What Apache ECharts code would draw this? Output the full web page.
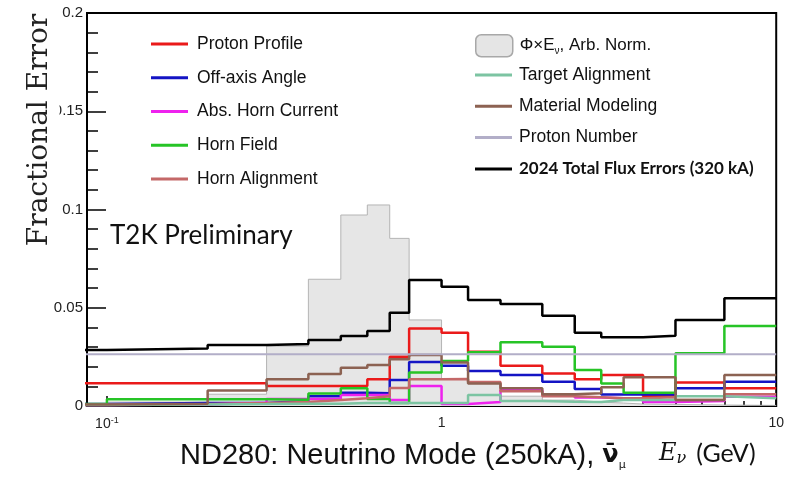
<!DOCTYPE html>
<html>
<head>
<meta charset="utf-8">
<script src="https://cdn.jsdelivr.net/npm/echarts@6/dist/echarts.min.js"></script>
<style>
  html, body { margin: 0; padding: 0; background: #fff; }
  #chart { width: 787px; height: 482px; }
</style>
</head>
<body>
<div id="chart"></div>
<script>
// Neutrino energy bin edges in GeV (the lowest bin starts below the visible range)
const binEdges = [0.01, 0.1, 0.2, 0.3, 0.4, 0.5, 0.6, 0.7, 0.8, 1.0, 1.2, 1.5, 2.0, 2.5, 3.0, 3.5, 4.0, 5.0, 7.0, 10.0];

// Flux x energy, arbitrary normalisation
const fluxShape     = [0.0003, 0.0020, 0.0060, 0.0305, 0.0645, 0.0972, 0.1023, 0.0853, 0.0438, 0.0135, 0.0120, 0.0050, 0.0030, 0.0020, 0.0015, 0.0010, 0.0008, 0.0005, 0.0003];

// Fractional error per bin for each systematic source
const protonProfile = [0.0116, 0.0116, 0.0116, 0.0102, 0.0102, 0.0102, 0.0136, 0.0251, 0.0395, 0.0373, 0.0276, 0.0205, 0.0166, 0.0136, 0.0158, 0.0158, 0.0050, 0.0119, 0.0090];
const offAxisAngle  = [0.0010, 0.0015, 0.0015, 0.0025, 0.0049, 0.0068, 0.0065, 0.0132, 0.0224, 0.0205, 0.0178, 0.0158, 0.0124, 0.0087, 0.0059, 0.0059, 0.0058, 0.0090, 0.0124];
const hornCurrent   = [0.0005, 0.0008, 0.0017, 0.0036, 0.0036, 0.0056, 0.0056, 0.0030, 0.0102, 0.0010, 0.0020, 0.0081, 0.0056, 0.0043, 0.0039, 0.0039, 0.0020, 0.0025, 0.0047];
const hornField     = [0.0010, 0.0034, 0.0034, 0.0032, 0.0063, 0.0090, 0.0035, 0.0015, 0.0170, 0.0229, 0.0273, 0.0324, 0.0302, 0.0183, 0.0115, 0.0068, 0.0068, 0.0268, 0.0407];
const hornAlignment = [0.0005, 0.0010, 0.0015, 0.0020, 0.0030, 0.0040, 0.0050, 0.0092, 0.0136, 0.0137, 0.0122, 0.0075, 0.0050, 0.0045, 0.0040, 0.0040, 0.0045, 0.0030, 0.0060];
const targetAlign   = [0.0005, 0.0008, 0.0010, 0.0012, 0.0012, 0.0015, 0.0015, 0.0015, 0.0015, 0.0015, 0.0056, 0.0025, 0.0022, 0.0020, 0.0030, 0.0030, 0.0030, 0.0050, 0.0040];
const materialModel = [0.0008, 0.0012, 0.0079, 0.0136, 0.0163, 0.0195, 0.0209, 0.0238, 0.0260, 0.0222, 0.0115, 0.0090, 0.0060, 0.0065, 0.0095, 0.0146, 0.0146, 0.0030, 0.0158];
const protonNumber  = [0.0263, 0.0263, 0.0263, 0.0263, 0.0263, 0.0263, 0.0263, 0.0263, 0.0263, 0.0263, 0.0263, 0.0263, 0.0263, 0.0263, 0.0263, 0.0263, 0.0263, 0.0263, 0.0263];
const totalError    = [0.0285, 0.0293, 0.0310, 0.0316, 0.0336, 0.0356, 0.0382, 0.0475, 0.0641, 0.0607, 0.0540, 0.0519, 0.0459, 0.0373, 0.0350, 0.0350, 0.0358, 0.0438, 0.0548];

// Axis ticks
const xMajorTicks = [0.1, 1, 10];
const xMinorTicks = [0.2, 0.3, 0.4, 0.5, 0.6, 0.7, 0.8, 0.9, 2, 3, 4, 5, 6, 7, 8, 9];
const yTickStep = 0.05;

const FLUX_NAME = 'ΦxEν, Arb. Norm.';
const TOTAL_NAME = '2024 Total Flux Errors (320 kA)';

const sources = [
  { name: 'Proton Profile',     values: protonProfile, color: '#ea1a1a', width: 2.5 },
  { name: 'Off-axis Angle',     values: offAxisAngle,  color: '#1414c4', width: 2.5 },
  { name: 'Abs. Horn Current',  values: hornCurrent,   color: '#ee22ee', width: 2.5 },
  { name: 'Horn Field',         values: hornField,     color: '#26c426', width: 2.5 },
  { name: 'Horn Alignment',     values: hornAlignment, color: '#c46868', width: 2.5 },
  { name: 'Target Alignment',   values: targetAlign,   color: '#7cc4a2', width: 2.5 },
  { name: 'Material Modeling',  values: materialModel, color: '#8c6252', width: 2.5 },
  { name: 'Proton Number',      values: protonNumber,  color: '#b2aec8', width: 2 },
  { name: TOTAL_NAME,           values: totalError,    color: '#000000', width: 2.5 }
];

// Histogram points: value of each bin placed at its lower edge, closed at the top edge
function histPoints(values) {
  return binEdges.map((e, i) => [e, values[Math.min(i, values.length - 1)]]);
}

const seriesList = [{
  name: FLUX_NAME,
  type: 'line',
  step: 'end',
  data: histPoints(fluxShape),
  showSymbol: false,
  color: '#e4e4e4',
  lineStyle: { color: '#b4b4b4', width: 1 },
  areaStyle: { color: '#e6e6e6', opacity: 1 },
  z: 1,
  silent: true
}].concat(sources.map((s, i) => ({
  name: s.name,
  type: 'line',
  step: 'end',
  data: histPoints(s.values),
  showSymbol: false,
  color: s.color,
  itemStyle: { color: s.color },
  lineStyle: { color: s.color, width: s.width },
  z: 3 + i,
  silent: true
})));

const legendText = {
  fontFamily: 'Liberation Sans',
  fontSize: 17.5,
  color: '#111',
  lineHeight: 20
};

const option = {
  animation: false,
  backgroundColor: '#fff',
  grid: {
    left: 87, right: 10, top: 13, bottom: 76,
    show: true, borderColor: '#000', borderWidth: 2, backgroundColor: 'transparent'
  },
  xAxis: [{
    type: 'log', logBase: 10, min: 0.0872, max: 10, position: 'bottom',
    axisLine: { show: false },
    splitLine: { show: false },
    axisTick: { show: true, inside: true, length: 10, customValues: xMajorTicks, lineStyle: { color: '#000', width: 1.5 } },
    axisLabel: {
      customValues: xMajorTicks,
      margin: 10,
      fontFamily: 'Liberation Sans', fontSize: 14, color: '#222',
      formatter: v => (Math.abs(v - 0.1) < 1e-9 ? '{b|10}{s|-1}' : String(Math.round(v))),
      rich: {
        b: { fontFamily: 'Liberation Sans', fontSize: 14, color: '#222', lineHeight: 16 },
        s: { fontFamily: 'Liberation Sans', fontSize: 9, color: '#222', verticalAlign: 'top', lineHeight: 16, padding: [0, 0, 6, 0] }
      }
    }
  }, {
    type: 'log', logBase: 10, min: 0.0872, max: 10, position: 'bottom',
    axisLine: { show: false },
    splitLine: { show: false },
    axisTick: { show: true, inside: true, length: 5, customValues: xMinorTicks, lineStyle: { color: '#000', width: 1.5 } },
    axisLabel: { show: false }
  }],
  yAxis: {
    type: 'value', min: 0, max: 0.2, interval: yTickStep,
    axisLine: { show: false },
    splitLine: { show: false },
    axisTick: { show: true, inside: true, length: 19, lineStyle: { color: '#000', width: 1.5 } },
    minorTick: { show: true, splitNumber: 5, length: 11, lineStyle: { color: '#000', width: 1.5 } },
    axisLabel: { margin: 4, fontFamily: 'Liberation Sans', fontSize: 15, color: '#222' }
  },
  legend: [{
    data: sources.slice(0, 5).map(s => s.name),
    orient: 'vertical', left: 146, top: 29,
    icon: 'rect', itemWidth: 37, itemHeight: 3, itemGap: 13.75,
    selectedMode: false,
    itemStyle: { borderWidth: 0 },
    textStyle: Object.assign({ padding: [0, 0, 0, 4] }, legendText)
  }, {
    data: [FLUX_NAME],
    orient: 'vertical', left: 470, top: 29,
    icon: 'roundRect', itemWidth: 37, itemHeight: 22,
    selectedMode: false,
    itemStyle: { color: '#e5e5e5', borderColor: '#a8a8a8', borderWidth: 1.5 },
    formatter: () => '{n|Φ×E}{s|ν}{n|, Arb. Norm.}',
    textStyle: Object.assign({
      padding: [0, 0, 0, 2],
      rich: {
        n: { fontFamily: 'Liberation Sans', fontSize: 17, color: '#111' },
        s: { fontFamily: 'Liberation Sans', fontSize: 10, color: '#111', verticalAlign: 'bottom', padding: [6, 0, 0, 0] }
      }
    }, legendText)
  }, {
    data: sources.slice(5).map(s => s.name === TOTAL_NAME
      ? { name: s.name, textStyle: { fontFamily: 'Lato', fontWeight: 'bold', fontSize: 17 } }
      : s.name),
    orient: 'vertical', left: 470, top: 60,
    icon: 'rect', itemWidth: 37, itemHeight: 3, itemGap: 11.3,
    selectedMode: false,
    itemStyle: { borderWidth: 0 },
    textStyle: Object.assign({ padding: [0, 0, 0, 2] }, legendText)
  }],
  graphic: [{
    type: 'text', z: 20,
    x: 40, y: 130, rotation: Math.PI / 2,
    style: {
      text: 'Fractional Error',
      font: '28px "DejaVu Serif"',
      fill: '#222', align: 'center', verticalAlign: 'middle',
      backgroundColor: '#fff', padding: [0, 0, 11, 0]
    }
  }, {
    type: 'text', z: 20,
    x: 110, y: 236,
    style: {
      text: 'T2K Preliminary',
      font: '26px Lato', fill: '#111', align: 'left', verticalAlign: 'middle'
    }
  }, {
    type: 'text', z: 20,
    x: 180, y: 456,
    style: {
      text: '{t|ND280: Neutrino Mode (250kA), }{nu|ν̄}{mu|μ}',
      align: 'left', verticalAlign: 'middle',
      rich: {
        t: { fontFamily: 'Liberation Sans', fontSize: 29, fill: '#111' },
        nu: { fontFamily: 'DejaVu Sans', fontSize: 24, fontWeight: 'bold', fill: '#111' },
        mu: { fontFamily: 'DejaVu Sans', fontSize: 11, fill: '#111', verticalAlign: 'bottom', padding: [14, 0, 0, 0] }
      }
    }
  }, {
    type: 'text', z: 20,
    x: 659, y: 454,
    style: {
      text: '{e|E}{n|ν}{g|(GeV)}',
      align: 'left', verticalAlign: 'middle',
      rich: {
        e: { fontFamily: 'DejaVu Serif', fontStyle: 'italic', fontSize: 24, fill: '#111' },
        n: { fontFamily: 'DejaVu Serif', fontStyle: 'italic', fontSize: 16, fill: '#111', verticalAlign: 'bottom', padding: [9, 0, 0, 0] },
        g: { fontFamily: 'Lato', fontSize: 25, fill: '#111', padding: [0, 0, 0, 10] }
      }
    }
  }],
  series: seriesList
};

const chart = echarts.init(document.getElementById('chart'), null, { renderer: 'canvas' });
chart.setOption(option);
</script>
</body>
</html>
